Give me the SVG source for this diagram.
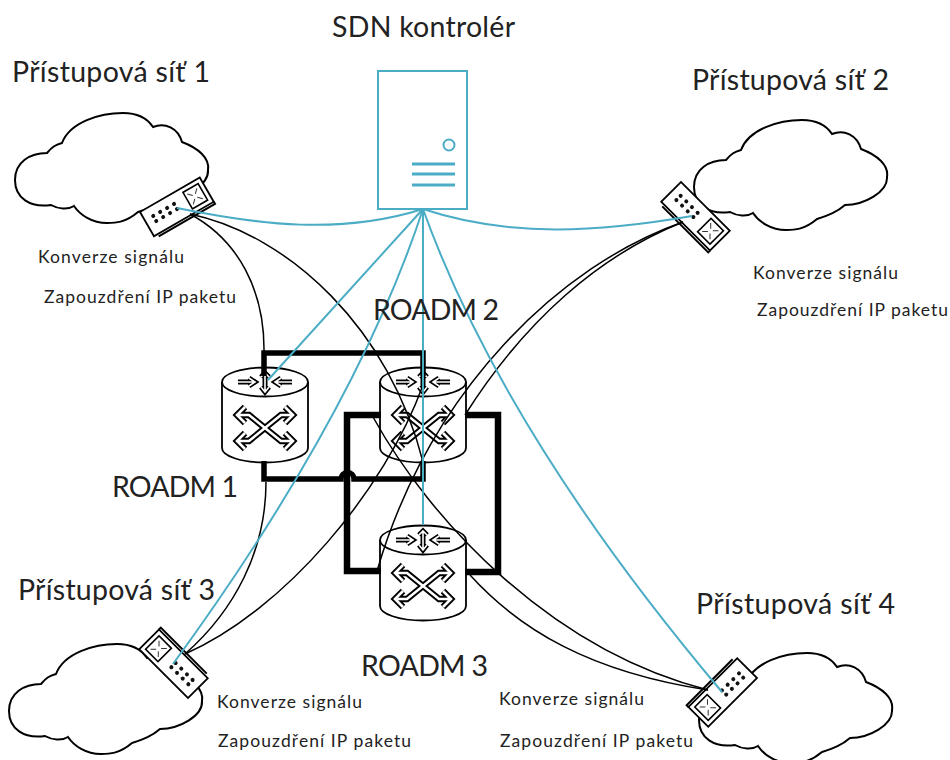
<svg xmlns="http://www.w3.org/2000/svg" width="950" height="760" viewBox="0 0 950 760">
<style>
text{font-family:"Lato","Open Sans","Liberation Sans",sans-serif;fill:#222}
.big{font-size:28.5px}
.small{font-size:17.5px}
.cloud{fill:#fff;stroke:#000;stroke-width:2}
.dev{fill:#fff;stroke:#000;stroke-width:1.8}
.thick{fill:none;stroke:#000;stroke-width:5.5;stroke-linejoin:miter}
.thicker{fill:none;stroke:#000;stroke-width:6.5;stroke-linejoin:miter}
.thin{fill:none;stroke:#000;stroke-width:1.5}
.cy{fill:none;stroke:#4BACC6;stroke-width:2}
.srv{fill:none;stroke:#4BACC6;stroke-width:2}
.a1{fill:none;stroke:#000;stroke-width:6.4;stroke-linejoin:miter}
.a2{fill:none;stroke:#fff;stroke-width:2.6;stroke-linejoin:miter}
.t1{fill:none;stroke:#000;stroke-width:5;stroke-linejoin:miter}
.t2{fill:none;stroke:#fff;stroke-width:1.6;stroke-linejoin:miter}
</style>
<defs>
<path id="cloudp" d="M47,153 C52,147 55,145 62,143 C70,122 100,113 123,113 C137,113 147,118 153,127 C165,122 178,128 182,142 C198,148 210,158 208,170 C209,185 185,198 166,198 C158,205 150,208 138,212 C125,223 115,223 107,223 C92,223 80,215 74,206 C68,210 58,209 51,205 C30,208 15,198 15,180 C15,162 30,153 47,153 Z"/>
<g id="device">
<path d="M4,30.5 L69,30.5 L69,28" fill="none" stroke="#000" stroke-width="2"/>
<rect x="0" y="0" width="69" height="28" class="dev"/>
<rect x="47" y="4.5" width="17.5" height="19" fill="#fff" stroke="#000" stroke-width="1.6"/>
<path d="M50,8 L54,12 M61,8 L57,12 M50,20 L54,16 M61,20 L57,16" stroke="#333" stroke-width="1" fill="none"/>
<g fill="#111">
<circle cx="9.5" cy="10" r="2"/><circle cx="17.5" cy="10" r="2"/><circle cx="25.5" cy="10" r="2"/><circle cx="33.5" cy="10" r="2"/>
<circle cx="9.5" cy="16" r="2"/><circle cx="17.5" cy="16" r="2"/><circle cx="25.5" cy="16" r="2"/><circle cx="33.5" cy="16" r="2"/>
</g>
</g>
<path id="xa" d="M-20,-21 L-28,-13 L-20,-5 M-27,-13 L-16,-13 L16,13 L27,13 M20,5 L28,13 L20,21 M-20,21 L-28,13 L-20,5 M-27,13 L-16,13 L16,-13 L27,-13 M20,-5 L28,-13 L20,-21"/>
<path id="ta" d="M-27,0 L-11,0 M-16,-4 L-10,0 L-16,4 M27,0 L11,0 M16,-4 L10,0 L16,4 M0,-9 L0,10 M-4,5 L0,10 L4,5 M-4,-5 L0,-9 L4,-5"/>
<g id="roadm">
<path d="M-43,0 L-43,66 A43,14.5 0 0 0 43,66 L43,0" fill="#fff" stroke="#000" stroke-width="1.8"/>
<ellipse cx="0" cy="0" rx="43" ry="14.5" fill="#fff" stroke="#000" stroke-width="1.8"/>
<use href="#ta" class="t1"/>
<use href="#ta" class="t2"/>
<use href="#xa" class="a1" y="46"/>
<use href="#xa" class="a2" y="46"/>
</g>
</defs>

<g id="cloud1"><use href="#cloudp" class="cloud"/></g>
<g id="cloud2"><use href="#cloudp" class="cloud" x="679" y="7"/></g>
<g id="cloud3"><use href="#cloudp" class="cloud" x="-6" y="531"/></g>
<g id="cloud4"><use href="#cloudp" class="cloud" x="684" y="540"/></g>

<g id="server">
<rect x="378" y="71" width="89" height="138" class="srv"/>
<circle cx="449" cy="145" r="5.5" class="srv"/>
<path d="M412,164 H455 M412,174 H455 M412,185 H455" fill="none" stroke="#4BACC6" stroke-width="3"/>
</g>

<g id="roadm1"><use href="#roadm" x="265" y="382"/></g>
<g id="roadm2"><use href="#roadm" x="423" y="382"/></g>
<g id="roadm3"><use href="#roadm" x="423" y="540"/></g>

<g id="device1"><use href="#device" transform="translate(140,212) rotate(-30)"/></g>
<g id="device2"><use href="#device" transform="translate(681,182) rotate(45)"/></g>
<g id="device3"><use href="#device" transform="translate(188,698) rotate(225)"/></g>
<g id="device4"><use href="#device" transform="translate(757,678) rotate(135)"/></g>

<g id="connectors">
<path class="thick" d="M264,376 V353 H423 V376"/>
<path class="thick" d="M264,461 V479 H341 A6.5,6.5 0 0 1 354,479 H423 V461"/>
<path class="thicker" d="M381,415 H347 V571 H381"/>
<path class="thicker" d="M465,415 H498 V572 H465"/>

<path class="thin" d="M190,214 C238,240 265,290 264,353"/>
<path class="thin" d="M190,214 C290,235 390,330 423,462"/>
<path class="thin" d="M373,417 C430,520 550,650 708,690"/>
<path class="thin" d="M470,575 C520,630 590,672 708,690"/>
<path class="thin" d="M683,222 C600,255 525,320 465,415"/>
<path class="thin" d="M683,222 C560,265 430,390 377,571"/>
<path class="thin" d="M185,654 C235,610 266,550 266,482"/>
<path class="thin" d="M185,654 C285,610 385,490 423,385"/>

<path class="cy" d="M423,209 C340,235 260,225 177,208"/>
<path class="cy" d="M423,209 C510,238 600,232 692,216"/>
<path class="cy" d="M423,209 L268,380"/>
<path class="cy" d="M423,209 V525"/>
<path class="cy" d="M423,209 C380,340 300,490 173,664"/>
<path class="cy" d="M423,209 C470,340 560,500 722,692"/>
</g>

<g id="labels">
<text class="big" x="332" y="37" textLength="183">SDN kontrolér</text>
<text class="big" x="12" y="82" textLength="198">Přístupová síť 1</text>
<text class="big" x="692" y="90" textLength="197">Přístupová síť 2</text>
<text class="big" x="18" y="600" textLength="197">Přístupová síť 3</text>
<text class="big" x="696" y="614" textLength="199">Přístupová síť 4</text>
<text class="big" x="373" y="320" textLength="126">ROADM 2</text>
<text class="big" x="112" y="497" textLength="126">ROADM 1</text>
<text class="big" x="361" y="676" textLength="127">ROADM 3</text>
<text class="small" x="38" y="263" textLength="146">Konverze signálu</text>
<text class="small" x="44" y="303" textLength="192">Zapouzdření IP paketu</text>
<text class="small" x="753" y="279" textLength="145">Konverze signálu</text>
<text class="small" x="757" y="316" textLength="191">Zapouzdření IP paketu</text>
<text class="small" x="217" y="708" textLength="145">Konverze signálu</text>
<text class="small" x="218" y="747" textLength="193">Zapouzdření IP paketu</text>
<text class="small" x="499" y="705" textLength="145">Konverze signálu</text>
<text class="small" x="500" y="747" textLength="193">Zapouzdření IP paketu</text>
</g>
</svg>
